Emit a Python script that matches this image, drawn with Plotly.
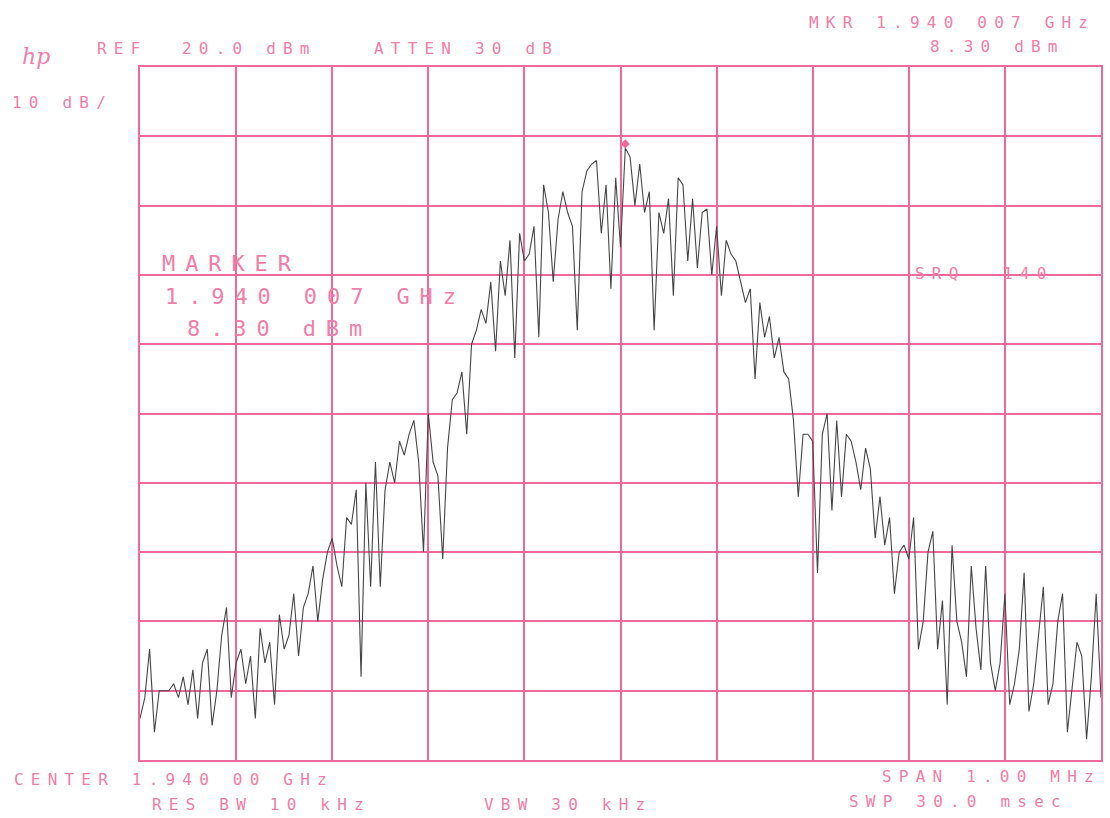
import numpy as np
import plotly.graph_objects as go

# ---- data (offset from centre frequency 1.940 00 GHz, kHz ; level in dBm) ----
freq_start_khz = -500
freq_step_khz = 5
level_dbm = [
    # -500 .. -400
    -74, -71, -64, -76, -70, -70, -70, -69, -71, -68, -72, -67, -74, -66, -64, -75, -70, -62, -58, -71, -66,
    # -395 .. -300
    -64, -69, -65, -74, -61, -66, -63, -72, -59, -64, -62, -56, -65, -58, -56, -52, -60, -54, -50, -48,
    # -295 .. -200
    -52, -55, -45, -46, -41, -68, -40, -55, -37, -55, -41, -37, -40, -34, -36, -33, -31, -37, -50, -30,
    # -195 .. -100
    -37, -39, -51, -35, -28, -27, -24, -33, -20, -18, -15, -17, -11, -21, -8, -13, -5, -22, -4, -8,
    # -95 .. 0
    -7, -3, -19, 3, -1, -11, -2, 2, -1, -3, -18, 2, 5, 6, 6.5, -4, 3, -12, 4, -6,
    # 5 .. 100
    8.3, 7, 0, 6, -1, 2, -18, -1, -4, 1, -13, 4, 3, -8, 1, -9, -1, -0.5, -10, -3,
    # 105 .. 200
    -13, -5, -7, -8, -11, -14, -12, -25, -14, -19, -16, -22, -19, -24, -25, -31, -42, -33, -33, -34,
    # 205 .. 300
    -53, -33, -30, -44, -31, -42, -33, -34, -37, -41, -35, -38, -48, -42, -49, -45, -56, -50, -49, -51,
    # 305 .. 400
    -45, -64, -60, -50, -47, -64, -57, -72, -49, -60, -63, -68, -52, -61, -67, -52, -66, -70, -66, -56,
    # 405 .. 500
    -72, -69, -64, -53, -73, -69, -62, -55, -72, -69, -60, -56, -76, -69, -63, -65, -77, -68, -56, -71,
]
freq_khz = [freq_start_khz + i * freq_step_khz for i in range(len(level_dbm))]

ref_level_dbm = 20.0
db_per_div = 10
span_khz = 1000

header_left = [("REF", 95, 48), ("20.0 dBm", 180, 48), ("ATTEN 30 dB", 372, 48), ("10 dB/", 10, 102)]
header_right = [("MKR 1.940 007 GHz", 808, 22), ("8.30 dBm", 930, 46)]
footer = [("CENTER 1.940 00 GHz", 12, 779), ("RES BW 10 kHz", 150, 804), ("VBW 30 kHz", 483, 804),
          ("SPAN 1.00 MHz", 882, 776), ("SWP 30.0 msec", 848, 801)]
marker_text = [("MARKER", 160, 263), ("1.940 007 GHz", 163, 296), ("8.30 dBm", 185, 328)]
srq_text = [("SRQ", 915, 273), ("140", 1003, 273)]

# ---- styling ----
W, H = 1110, 818
L, R, T, B = 140, 7, 67, 58
GRID = "rgb(240,105,155)"
TXT = "rgb(241,125,168)"
TRACE = "rgb(70,70,70)"


def px(x):
    return (x - L) / (W - L - R)


def py(y):
    return (H - B - y) / (H - T - B)


fig = go.Figure()
fig.add_trace(go.Scatter(x=freq_khz, y=level_dbm, mode="lines",
                         line=dict(color=TRACE, width=1.1), hoverinfo="skip", showlegend=False))
imax = int(np.argmax(level_dbm))
fig.add_trace(go.Scatter(x=[freq_khz[imax]], y=[level_dbm[imax] + 0.6], mode="markers",
                         marker=dict(symbol="diamond", size=7, color=GRID), showlegend=False))

ann = []
for group, size in ((header_left, 16), (header_right, 16), (footer, 16), (marker_text, 22), (srq_text, 16)):
    for text, x, y in group:
        ann.append(dict(text=text, x=px(x), y=py(y), xref="paper", yref="paper",
                        xanchor="left", yanchor="middle", showarrow=False,
                        font=dict(family="DejaVu Sans Mono", size=size, color=TXT)))
ann.append(dict(text="<i>hp</i>", x=px(20), y=py(57), xref="paper", yref="paper",
                xanchor="left", yanchor="middle", showarrow=False,
                font=dict(family="DejaVu Serif", size=22, color=TXT)))

axis_common = dict(showgrid=True, gridcolor=GRID, gridwidth=1.5, showline=True, linecolor=GRID,
                   linewidth=1.5, mirror=True, zeroline=False, showticklabels=False, ticks="")
fig.update_layout(
    width=W, height=H, margin=dict(l=L, r=R, t=T, b=B),
    paper_bgcolor="white", plot_bgcolor="white",
    xaxis=dict(range=[-span_khz / 2, span_khz / 2], dtick=span_khz / 10, tick0=0, **axis_common),
    yaxis=dict(range=[ref_level_dbm - 10 * db_per_div, ref_level_dbm], dtick=db_per_div, tick0=0, **axis_common),
    annotations=ann,
)

post = """
document.body.style.margin = '0';
document.body.style.padding = '0';
document.body.style.overflow = 'hidden';
var gd = document.getElementById('{plot_id}');
function ls(){
  gd.querySelectorAll('.annotation-text').forEach(function(t){
    if (t.textContent === 'hp' || t.getAttribute('data-ls') === '1') { return; }
    var bb = t.getBBox();
    t.setAttribute('text-anchor', 'start');
    t.setAttribute('x', bb.x);
    t.style.letterSpacing = '0.45em';
    t.setAttribute('data-ls', '1');
  });
}
ls(); setTimeout(ls, 30); setTimeout(ls, 300);
if (gd.on) { gd.on('plotly_afterplot', ls); }
"""
fig.write_html("out.html", post_script=post, config={"displayModeBar": False})
